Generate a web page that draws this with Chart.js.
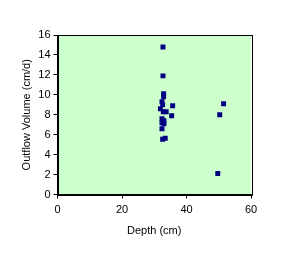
<!DOCTYPE html>
<html>
<head>
<meta charset="utf-8">
<script src="https://cdn.jsdelivr.net/npm/chart.js@4/dist/chart.umd.min.js"></script>
<style>
html,body{margin:0;padding:0;background:#fff;}
#wrap{width:285px;height:268px;position:relative;}
</style>
</head>
<body>
<div id="wrap"><canvas id="c" width="285" height="268"></canvas></div>
<script>
const depthCm = [32.7, 32.7, 32.9, 32.9, 32.4, 32.6, 31.9, 32.8, 33.7, 35.7, 35.4, 32.4, 33.0, 32.4, 33.0, 32.4, 32.6, 33.4, 51.5, 50.3, 49.7];
const outflow = [14.8, 11.9, 10.1, 9.8, 9.3, 9.0, 8.6, 8.3, 8.3, 8.9, 7.9, 7.6, 7.4, 7.2, 7.1, 6.6, 5.55, 5.65, 9.1, 8.0, 2.1];
const xTicks = [0, 20, 40, 60];
const yTicks = [0, 2, 4, 6, 8, 10, 12, 14, 16];

const points = depthCm.map((d, i) => ({x: d, y: outflow[i]}));

const areaPlugin = {
  id: 'area',
  beforeDraw(chart) {
    const {ctx, chartArea: a} = chart;
    ctx.save();
    ctx.fillStyle = '#CCFFCC';
    ctx.fillRect(a.left, a.top, a.right - a.left, a.bottom - a.top);
    ctx.restore();
  },
  afterDatasetsDraw(chart) {
    const {ctx, chartArea: a} = chart;
    ctx.save();
    ctx.strokeStyle = '#000';
    ctx.lineWidth = 1;
    ctx.strokeRect(Math.round(a.left) + 0.5, Math.round(a.top) + 0.5, Math.round(a.right - a.left), Math.round(a.bottom - a.top));
    ctx.restore();
  }
};

const font = {family: 'Arial, "Liberation Sans", sans-serif', size: 11};

new Chart(document.getElementById('c'), {
  type: 'scatter',
  data: {
    datasets: [{
      data: points,
      pointStyle: 'rect',
      pointRadius: 3.5,
      pointHoverRadius: 3.5,
      borderWidth: 0,
      backgroundColor: '#000080',
      borderColor: '#000080'
    }]
  },
  options: {
    responsive: false,
    animation: false,
    events: [],
    layout: {padding: {left: 0, right: 34, top: 35, bottom: 0}},
    plugins: {legend: {display: false}, tooltip: {enabled: false}},
    scales: {
      x: {
        type: 'linear', min: 0, max: 60,
        afterBuildTicks(s) { s.ticks = xTicks.map(v => ({value: v})); },
        afterFit(s) { s.height = 73.5; },
        grid: {drawOnChartArea: false, drawTicks: true, tickLength: 4, color: '#000'},
        border: {display: true, color: '#000', width: 1},
        ticks: {color: '#000', font: font, padding: 5, maxRotation: 0},
        title: {display: true, text: 'Depth (cm)', color: '#000', font: font, padding: {top: 0, bottom: 30}}
      },
      y: {
        type: 'linear', min: 0, max: 16,
        afterBuildTicks(s) { s.ticks = yTicks.map(v => ({value: v})); },
        afterFit(s) { s.width = 57.5; },
        grid: {drawOnChartArea: false, drawTicks: true, tickLength: 4, color: '#000'},
        border: {display: true, color: '#000', width: 1},
        ticks: {color: '#000', font: font, padding: 3},
        title: {display: true, text: 'Outflow Volume (cm/d)', color: '#000', font: font, padding: {top: 20, bottom: 0}}
      }
    }
  },
  plugins: [areaPlugin]
});
</script>
</body>
</html>
